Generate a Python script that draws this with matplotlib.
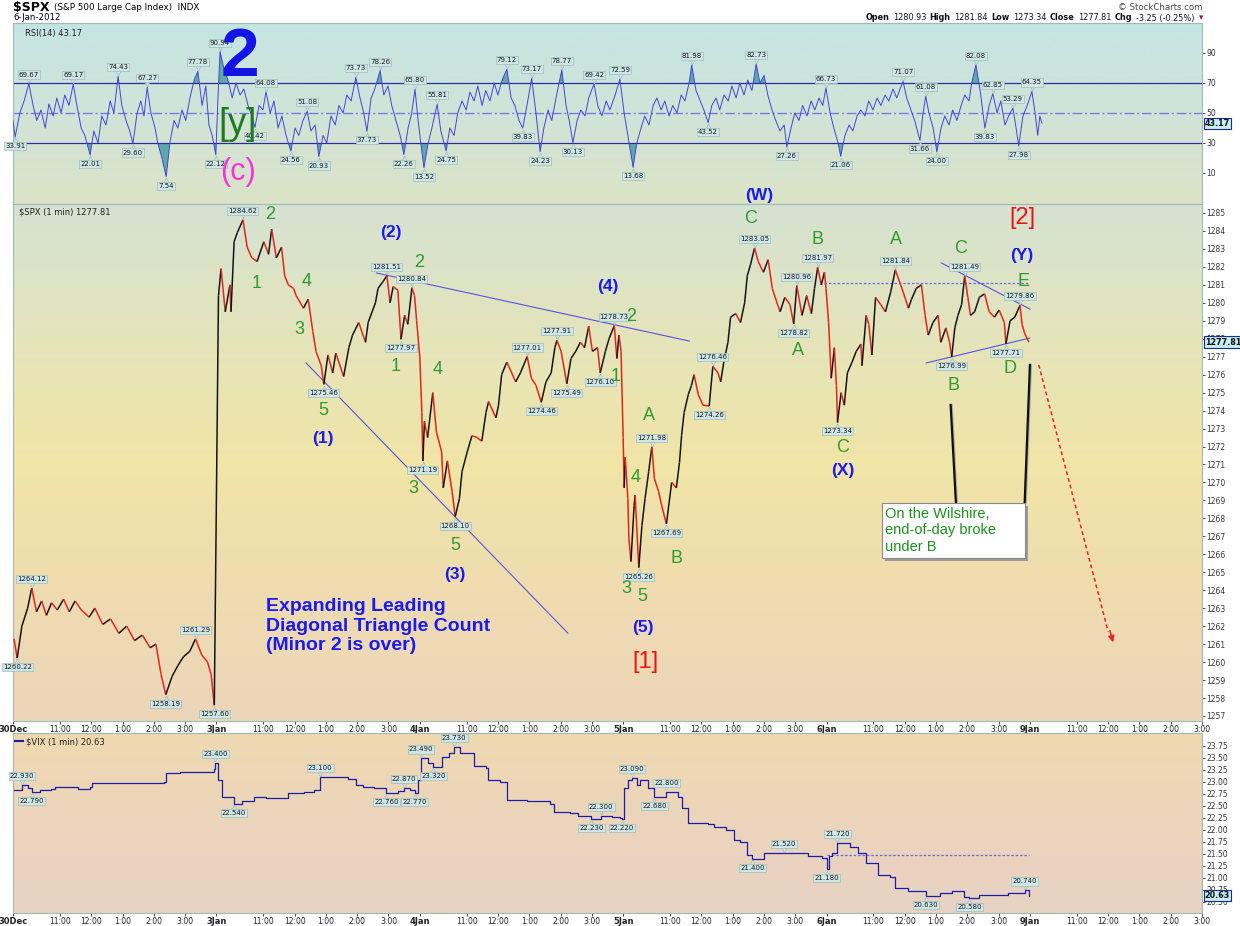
import numpy as np
import matplotlib.pyplot as plt
from matplotlib.collections import LineCollection
from matplotlib.colors import LinearSegmentedColormap
from matplotlib.patches import Rectangle
from matplotlib.transforms import offset_copy

plt.rcParams['font.family'] = ['DejaVu Sans']

# x = trading minutes since 30-Dec 9:30 (390 per session)
session = 390
days = ['30Dec', '3Jan', '4Jan', '5Jan', '6Jan', '9Jan']
hours = ['11:00', '12:00', '1:00', '2:00', '3:00']
hour_min = [90, 150, 210, 270, 330]

# $SPX 1 min (time, price)
spx_points = [
    (2, 1261.3), (8, 1260.22), (17, 1262.0), (28, 1263.0), (36, 1264.12), (45, 1262.8), (55, 1263.4),
    (64, 1262.6), (74, 1263.3), (85, 1262.9), (97, 1263.5), (108, 1262.8), (119, 1263.4), (131, 1262.9),
    (146, 1262.5), (157, 1263.0), (172, 1262.1), (187, 1262.4), (203, 1261.6), (218, 1262.0), (233, 1261.2),
    (248, 1261.5), (263, 1260.8), (274, 1261.0), (284, 1259.3), (293, 1258.19), (305, 1259.2), (316, 1259.8),
    (327, 1260.3), (339, 1260.6), (350, 1261.29), (362, 1260.4), (373, 1260.0), (380, 1259.3), (386, 1257.60),
    # 3 Jan
    (394, 1280.4), (399, 1281.9), (407, 1279.5), (416, 1281.0), (418, 1279.5), (424, 1283.4), (430, 1283.9),
    (441, 1284.62), (449, 1283.1), (458, 1282.5), (468, 1282.3), (481, 1283.4), (490, 1282.7), (496, 1284.1),
    (505, 1282.5), (515, 1283.1), (521, 1281.5), (528, 1281.0), (538, 1280.8), (543, 1280.4), (557, 1279.7),
    (566, 1280.2), (575, 1278.4), (581, 1277.3), (591, 1276.5), (596, 1275.46), (604, 1277.1), (613, 1276.1),
    (619, 1277.2), (634, 1275.9), (644, 1277.5), (651, 1278.2), (663, 1278.9), (676, 1277.8), (681, 1278.9),
    (695, 1280.0), (700, 1280.8), (710, 1281.2), (717, 1281.51), (723, 1280.0), (729, 1280.9), (738, 1280.7),
    (744, 1277.97), (751, 1279.3), (757, 1278.8), (765, 1280.84), (770, 1280.4), (774, 1279.0),
    # 4 Jan
    (780, 1277.0), (784, 1273.9), (786, 1271.19), (789, 1273.4), (795, 1272.5), (805, 1275.0), (812, 1272.8),
    (822, 1271.7), (825, 1269.7), (833, 1271.2), (842, 1269.5), (848, 1268.10), (856, 1269.1), (861, 1270.6),
    (871, 1271.7), (880, 1272.6), (890, 1272.5), (899, 1272.3), (907, 1273.9), (912, 1274.5), (926, 1273.6),
    (931, 1274.3), (937, 1276.0), (947, 1276.7), (964, 1275.6), (973, 1276.1), (986, 1277.01), (994, 1275.8),
    (1003, 1275.4), (1013, 1274.46), (1022, 1275.6), (1032, 1276.1), (1039, 1277.5), (1043, 1277.91),
    (1051, 1277.3), (1062, 1275.49), (1070, 1276.9), (1079, 1277.3), (1088, 1277.8), (1096, 1277.5),
    (1104, 1278.7), (1111, 1277.3), (1121, 1277.5), (1126, 1276.10), (1136, 1277.3), (1143, 1278.0),
    (1153, 1278.73), (1158, 1276.9), (1162, 1278.2), (1166, 1277.3),
    # 5 Jan
    (1170, 1272.5), (1172, 1269.7), (1174, 1271.4), (1179, 1269.1), (1181, 1266.9), (1185, 1265.6),
    (1191, 1268.7), (1193, 1269.3), (1200, 1265.26), (1206, 1267.6), (1212, 1269.1), (1219, 1270.6),
    (1225, 1271.98), (1230, 1270.2), (1238, 1269.5), (1244, 1268.7), (1253, 1267.69), (1263, 1270.0),
    (1272, 1269.7), (1278, 1271.1), (1282, 1272.6), (1287, 1273.9), (1295, 1274.9), (1301, 1275.4),
    (1306, 1276.0), (1314, 1274.9), (1323, 1274.3), (1335, 1274.26), (1342, 1276.46), (1352, 1276.1),
    (1357, 1275.6), (1363, 1276.7), (1371, 1277.8), (1376, 1279.2), (1386, 1279.4), (1395, 1278.9),
    (1403, 1280.0), (1408, 1281.5), (1414, 1282.1), (1422, 1283.05), (1429, 1282.3), (1439, 1281.7),
    (1448, 1282.4), (1456, 1280.8), (1465, 1280.0), (1471, 1279.5), (1480, 1280.3), (1490, 1279.9),
    (1497, 1278.82), (1503, 1280.96), (1513, 1279.3), (1522, 1280.4), (1531, 1279.4), (1537, 1280.8),
    (1543, 1281.97), (1550, 1281.0), (1556, 1281.7), (1559, 1280.8),
    # 6 Jan
    (1564, 1278.9), (1569, 1275.8), (1575, 1277.5), (1579, 1275.4), (1581, 1273.34), (1588, 1275.0),
    (1594, 1274.3), (1600, 1276.1), (1609, 1276.7), (1617, 1277.3), (1626, 1277.7), (1628, 1276.5),
    (1636, 1279.3), (1641, 1278.8), (1647, 1277.1), (1654, 1280.3), (1664, 1279.9), (1673, 1279.5),
    (1683, 1280.6), (1692, 1281.84), (1702, 1281.0), (1707, 1280.6), (1717, 1279.7), (1723, 1280.2),
    (1732, 1280.8), (1742, 1281.0), (1749, 1279.3), (1755, 1278.2), (1764, 1278.9), (1774, 1279.3),
    (1779, 1277.8), (1789, 1278.6), (1796, 1277.8), (1800, 1276.99), (1806, 1278.6), (1812, 1279.3),
    (1819, 1279.9), (1825, 1281.49), (1831, 1280.3), (1836, 1279.3), (1844, 1279.5), (1853, 1280.3),
    (1863, 1280.5), (1872, 1279.5), (1882, 1279.2), (1891, 1279.6), (1901, 1278.9), (1904, 1277.71),
    (1912, 1279.0), (1921, 1279.2), (1931, 1279.86), (1935, 1278.8), (1940, 1278.3), (1948, 1277.81),
]
spx_hi = [36, 350, 441, 717, 765, 986, 1043, 1153, 1225, 1342, 1422, 1503, 1543, 1692, 1825, 1931]
spx_lo = [8, 293, 386, 596, 744, 786, 848, 1013, 1062, 1126, 1200, 1253, 1335, 1497, 1581, 1800, 1904]

# RSI(14) (time, value)
rsi_points = [
    (0, 45), (4, 33.91), (13, 50), (21, 58), (30, 69.67), (38, 55), (45, 45), (53, 52), (61, 40), (68, 56),
    (76, 48), (83, 60), (91, 50), (98, 62), (106, 55), (114, 69.17), (121, 55), (129, 40), (136, 35),
    (146, 22.01), (153, 38), (161, 30), (168, 48), (176, 42), (184, 58), (191, 50), (199, 74.43), (206, 55),
    (214, 45), (221, 38), (227, 29.60), (235, 50), (242, 58), (248, 48), (254, 67.27), (261, 50), (269, 40),
    (274, 30), (282, 20), (290, 7.54), (297, 30), (305, 45), (312, 40), (320, 52), (327, 45), (335, 60),
    (343, 72), (350, 77.78), (358, 55), (365, 68), (371, 42), (377, 35), (384, 22.12), (388, 60),
    (392, 90.94), (399, 80), (407, 72), (415, 60), (422, 70), (430, 62), (437, 66), (445, 55), (452, 48),
    (458, 40.42), (466, 55), (473, 52), (479, 64.08), (487, 50), (494, 58), (502, 40), (509, 48), (517, 35),
    (526, 24.56), (534, 40), (541, 35), (549, 45), (557, 51.08), (564, 38), (572, 42), (579, 20.93),
    (587, 35), (594, 30), (602, 48), (610, 42), (617, 55), (625, 50), (632, 62), (640, 58), (649, 73.73),
    (657, 60), (664, 50), (670, 37.73), (678, 60), (685, 66), (695, 78.26), (702, 62), (710, 68), (717, 55),
    (725, 45), (733, 35), (740, 22.26), (748, 40), (755, 50), (761, 65.80), (767, 45), (772, 30),
    (778, 13.52), (786, 30), (793, 40), (803, 55.81), (810, 38), (820, 24.75), (827, 40), (835, 35),
    (842, 50), (850, 58), (858, 52), (865, 64), (873, 58), (880, 68), (888, 55), (895, 65), (903, 58),
    (911, 70), (918, 62), (926, 72), (935, 79.12), (943, 60), (950, 55), (958, 45), (965, 39.83), (973, 55),
    (982, 73.17), (990, 50), (998, 24.23), (1005, 40), (1013, 52), (1020, 45), (1028, 60), (1039, 78.77),
    (1047, 55), (1053, 45), (1060, 30.13), (1068, 45), (1075, 52), (1083, 48), (1090, 60), (1100, 69.42),
    (1107, 55), (1115, 48), (1123, 58), (1130, 52), (1140, 62), (1149, 72.59), (1157, 50), (1164, 35),
    (1174, 13.68), (1181, 30), (1189, 40), (1196, 48), (1204, 42), (1212, 55), (1219, 60), (1227, 52),
    (1234, 58), (1242, 48), (1249, 55), (1257, 50), (1265, 62), (1272, 58), (1280, 70), (1285, 81.98),
    (1293, 65), (1301, 58), (1308, 52), (1316, 43.52), (1323, 55), (1331, 60), (1338, 52), (1346, 62),
    (1354, 58), (1361, 68), (1369, 60), (1376, 70), (1384, 62), (1391, 72), (1399, 65), (1407, 82.73),
    (1414, 70), (1422, 75), (1429, 62), (1437, 52), (1444, 45), (1452, 38), (1460, 42), (1465, 27.26),
    (1473, 40), (1480, 50), (1488, 45), (1495, 55), (1503, 48), (1511, 58), (1518, 52), (1526, 60),
    (1533, 55), (1539, 66.73), (1547, 50), (1554, 40), (1562, 30), (1567, 21.06), (1575, 35), (1583, 42),
    (1590, 38), (1598, 48), (1605, 52), (1613, 48), (1620, 58), (1628, 52), (1636, 60), (1643, 55),
    (1651, 62), (1658, 58), (1666, 66), (1673, 60), (1685, 71.07), (1692, 60), (1700, 52), (1707, 45),
    (1717, 31.66), (1723, 50), (1728, 61.08), (1734, 50), (1742, 40), (1749, 24.00), (1757, 40), (1764, 48),
    (1772, 42), (1779, 52), (1787, 45), (1795, 55), (1802, 62), (1810, 58), (1815, 70), (1823, 82.08),
    (1831, 65), (1840, 39.83), (1848, 55), (1855, 62.85), (1863, 50), (1870, 58), (1878, 42), (1885, 48),
    (1893, 53.29), (1899, 40), (1904, 27.98), (1912, 48), (1920, 55), (1929, 64.35), (1935, 50), (1940, 35),
    (1944, 48), (1948, 43.17),
]
rsi_hi = [30, 114, 199, 254, 350, 392, 479, 557, 649, 695, 761, 803, 935, 982, 1039, 1100, 1149, 1285,
          1407, 1539, 1685, 1728, 1823, 1855, 1893, 1929]
rsi_lo = [4, 146, 227, 290, 384, 458, 526, 579, 670, 740, 778, 820, 965, 998, 1060, 1174, 1316, 1465,
          1567, 1717, 1749, 1840, 1904]

# $VIX 1 min (time, value)
vix_points = [
    (2, 22.83), (17, 22.93), (28, 22.87), (36, 22.79), (51, 22.83), (72, 22.85), (80, 22.90), (110, 22.90),
    (125, 22.86), (148, 22.89), (151, 22.97), (201, 22.97), (282, 22.97), (290, 23.00), (293, 23.18),
    (320, 23.20), (379, 23.21), (386, 23.28), (388, 23.40), (394, 23.04), (401, 22.69), (413, 22.69),
    (424, 22.54), (439, 22.61), (462, 22.69), (485, 22.67), (515, 22.67), (528, 22.77), (558, 22.80),
    (577, 22.83), (589, 23.10), (642, 23.06), (657, 22.94), (672, 22.90), (693, 22.87), (716, 22.76),
    (738, 22.82), (750, 22.87), (761, 22.83), (770, 22.77), (776, 23.04), (782, 23.49), (795, 23.40),
    (806, 23.32), (822, 23.53), (837, 23.60), (846, 23.73), (858, 23.61), (884, 23.33), (907, 23.29),
    (911, 23.04), (933, 23.00), (948, 22.63), (986, 22.61), (1030, 22.54), (1037, 22.38), (1068, 22.35),
    (1083, 22.29), (1109, 22.23), (1128, 22.30), (1149, 22.27), (1164, 22.25), (1168, 22.22),
    (1172, 22.88), (1179, 23.04), (1187, 23.09), (1196, 22.94), (1202, 23.04), (1217, 22.87),
    (1230, 22.68), (1253, 22.80), (1276, 22.69), (1283, 22.46), (1295, 22.15), (1333, 22.13),
    (1344, 22.06), (1367, 22.00), (1382, 21.79), (1395, 21.75), (1407, 21.48), (1418, 21.40),
    (1441, 21.52), (1478, 21.52), (1524, 21.46), (1552, 21.41), (1560, 21.18), (1564, 21.46),
    (1571, 21.52), (1581, 21.72), (1605, 21.65), (1620, 21.52), (1636, 21.31), (1658, 21.06),
    (1681, 21.02), (1692, 20.79), (1717, 20.73), (1751, 20.63), (1778, 20.69), (1800, 20.73),
    (1823, 20.61), (1834, 20.58), (1853, 20.65), (1897, 20.65), (1908, 20.68), (1935, 20.68),
    (1940, 20.74), (1948, 20.63),
]
vix_hi = [17, 388, 589, 750, 782, 846, 1128, 1187, 1253, 1478, 1581, 1940]
vix_lo = [36, 424, 716, 770, 806, 1109, 1168, 1230, 1418, 1560, 1751, 1834]

W, H = 1240, 926
fig = plt.figure(figsize=(W / 100, H / 100), dpi=100)
L, R = 13, 1202


def panel(top, bottom):
    return fig.add_axes([L / W, 1 - bottom / H, (R - L) / W, (bottom - top) / H])


ax_r = panel(23, 204)
ax_p = panel(204, 721)
ax_v = panel(733, 913)


def shade(ax, colors):
    cmap = LinearSegmentedColormap.from_list('bg', colors)
    ax.imshow(np.linspace(0, 1, 256).reshape(-1, 1), cmap=cmap, aspect='auto',
              extent=(0, 1, 0, 1), origin='upper', transform=ax.transAxes, zorder=0)


shade(ax_r, ['#c5e4e2', '#d0e4d8', '#dbe3c6'])
shade(ax_p, ['#d5e2d2', '#e4e4bc', '#f1e5a7', '#efdcb0', '#ebd6b9'])
shade(ax_v, ['#efd9b0', '#ebd5bc', '#e8d2c3'])

TAG_FC, TAG_EC = '#cfe6e6', '#9fbcbc'


def tag(ax, x, y, txt, up):
    s = 1 if up else -1
    tr = offset_copy(ax.transData, fig=fig, x=0, y=2.4 * s, units='points')
    ax.plot([x], [y], marker='v' if up else '^', ms=3.5, mfc=TAG_FC, mec=TAG_EC, mew=0.5,
            transform=tr, zorder=6)
    ax.annotate(txt, (x, y), xytext=(0, 4.3 * s), textcoords='offset points', ha='center',
                va='bottom' if up else 'top', fontsize=5, color='#1a1a1a', zorder=7,
                bbox=dict(boxstyle='square,pad=0.15', fc=TAG_FC, ec=TAG_EC, lw=0.5))


def last_tag(ax, v, txt):
    ax.annotate(txt, xy=(1, v), xycoords=('axes fraction', 'data'), xytext=(2, 0),
                textcoords='offset points', ha='left', va='center', fontsize=5.8,
                fontweight='bold', color='#111', annotation_clip=False, zorder=10,
                bbox=dict(boxstyle='square,pad=0.15', fc='#c4eef2', ec='#1c2c80', lw=0.8))


# ---- RSI panel ----
rt, rv = np.array(rsi_points).T
ax_r.fill_between(rt, rv, 70, where=rv >= 70, interpolate=True, color='#5fa8a8', lw=0, zorder=2)
ax_r.fill_between(rt, rv, 30, where=rv <= 30, interpolate=True, color='#5fa8a8', lw=0, zorder=2)
ax_r.axhline(70, color='#2c2ca0', lw=0.9, zorder=2)
ax_r.axhline(30, color='#2c2ca0', lw=0.9, zorder=2)
ax_r.axhline(50, color='#7a7ae6', lw=1.0, ls=(0, (7, 2, 1.5, 2)), zorder=2)
ax_r.plot(rt, rv, color='#4444d8', lw=0.7, zorder=3)
rsi_d = dict(rsi_points)
for t in rsi_hi:
    tag(ax_r, t, rsi_d[t], '%.2f' % rsi_d[t], True)
for t in rsi_lo:
    tag(ax_r, t, rsi_d[t], '%.2f' % rsi_d[t], False)
ax_r.set_ylim(-10.7, 110)
ax_r.set_yticks([10, 30, 50, 70, 90])
last_tag(ax_r, rv[-1], '%.2f' % rv[-1])
ax_r.text(0.01, 0.965, 'RSI(14) %.2f' % rv[-1], transform=ax_r.transAxes, fontsize=6,
          va='top', color='#222', zorder=8)

# ---- SPX panel ----
pt, pv = np.array(spx_points).T
seg = np.stack([np.column_stack([pt[:-1], pv[:-1]]), np.column_stack([pt[1:], pv[1:]])], axis=1)
cols = np.where(pv[1:] >= pv[:-1], '#151515', '#e3261b')
ax_p.add_collection(LineCollection(seg, colors=cols, linewidths=1.1, zorder=3))
spx_d = dict(spx_points)
for t in spx_hi:
    tag(ax_p, t, spx_d[t], '%.2f' % spx_d[t], True)
for t in spx_lo:
    tag(ax_p, t, spx_d[t], '%.2f' % spx_d[t], False)
ax_p.set_ylim(1256.72, 1285.5)
ax_p.set_yticks(np.arange(1257, 1286))
last_tag(ax_p, pv[-1], '%.2f' % pv[-1])
ax_p.text(0.005, 0.993, '$SPX (1 min) %.2f' % pv[-1], transform=ax_p.transAxes, fontsize=6,
          va='top', color='#222', zorder=8)

# trend lines
tl = '#5555dd'
ax_p.plot([562, 1064], [1276.65, 1261.61], color=tl, lw=0.8, zorder=2)
ax_p.plot([697, 1297], [1281.66, 1277.87], color=tl, lw=0.8, zorder=2)
ax_p.plot([1780, 1950], [1282.22, 1279.65], color=tl, lw=0.8, zorder=2)
ax_p.plot([1751, 1950], [1276.65, 1278.04], color=tl, lw=0.8, zorder=2)
ax_p.plot([1556, 1948], [1281.10, 1281.10], color='#6a6ae8', lw=0.9, ls=(0, (2, 1.5)), zorder=2)
ax_p.plot([1967, 2100], [1276.54, 1261.7], color='#ee2222', lw=1.1, ls=(0, (2.5, 2)), zorder=4)
ax_p.annotate('', xy=(2111, 1260.95), xytext=(2102, 1261.9),
              arrowprops=dict(arrowstyle='-|>', color='#ee2222', lw=1.1, mutation_scale=9), zorder=4)

# wave labels
GREEN, BLUE, RED = '#2f9a2f', '#1a1aee', '#ee1111'
waves = [
    (494, 1284.94, '2', GREEN), (468, 1281.10, '1', GREEN), (564, 1281.21, '4', GREEN),
    (549, 1278.49, '3', GREEN), (596, 1273.98, '5', GREEN), (778, 1282.22, '2', GREEN),
    (734, 1276.48, '1', GREEN), (814, 1276.26, '4', GREEN), (767, 1269.69, '3', GREEN),
    (848, 1266.51, '5', GREEN), (1185, 1279.21, '2', GREEN), (1155, 1275.87, '1', GREEN),
    (1193, 1270.25, '4', GREEN), (1177, 1264.12, '3', GREEN), (1206, 1263.67, '5', GREEN),
    (1219, 1273.75, 'A', GREEN), (1272, 1265.79, 'B', GREEN), (1414, 1284.72, 'C', GREEN),
    (1505, 1277.32, 'A', GREEN), (1543, 1283.50, 'B', GREEN), (1590, 1271.92, 'C', GREEN),
    (1694, 1283.50, 'A', GREEN), (1817, 1283.05, 'C', GREEN), (1804, 1275.42, 'B', GREEN),
    (1912, 1276.37, 'D', GREEN), (1938, 1281.16, 'E', GREEN),
]
for x, y, s, c in waves:
    ax_p.text(x, y, s, color=c, fontsize=13, ha='center', va='center',
              family=['Liberation Sans', 'DejaVu Sans'], zorder=8)
degree = [
    (594, 1272.47, '(1)'), (725, 1283.94, '(2)'), (848, 1264.90, '(3)'), (1141, 1280.88, '(4)'),
    (1208, 1261.95, '(5)'), (1592, 1270.69, '(X)'), (1935, 1282.66, '(Y)'),
]
for x, y, s in degree:
    ax_p.text(x, y, s, color=BLUE, fontsize=12.5, fontweight='bold', ha='center', va='center',
              family=['Liberation Sans', 'DejaVu Sans'], zorder=8)
for x, y, s in [(1213, 1260.0, '[1]'), (1935, 1284.72, '[2]')]:
    ax_p.text(x, y, s, color=RED, fontsize=17, ha='center', va='center',
              family=['Liberation Sans', 'DejaVu Sans'], zorder=8)

ax_p.text(486, 1263.56, 'Expanding Leading\nDiagonal Triangle Count\n(Minor 2 is over)',
          color=BLUE, fontsize=14, fontweight='bold', ha='left', va='top',
          family=['Liberation Sans', 'DejaVu Sans'], zorder=8)

# Wilshire callout
ax_p.plot([1800, 1810], [1274.31, 1268.91], color='#aaaaaa', lw=1.6, zorder=5)
ax_p.plot([1798, 1808], [1274.31, 1268.91], color='#111111', lw=1.6, zorder=5)
ax_p.plot([1952, 1942], [1276.54, 1268.91], color='#aaaaaa', lw=1.6, zorder=5)
ax_p.plot([1950, 1940], [1276.54, 1268.91], color='#111111', lw=1.6, zorder=5)
ax_p.add_patch(Rectangle((1672, 1265.62), 274, 3.06, fc='#9a9a9a', ec='none', zorder=5))
ax_p.add_patch(Rectangle((1666, 1265.79), 274, 3.06, fc='white', ec='#8a8a8a', lw=0.8, zorder=6))
ax_p.text(1672, 1268.62, 'On the Wilshire,\nend-of-day broke\nunder B', color='#1e8f1e',
          fontsize=10.5, ha='left', va='top', family=['Liberation Sans', 'DejaVu Sans'], zorder=7)

# overlays in RSI panel
ax_r.text(430, 86.7, '2', color='#1414e6', fontsize=50, fontweight='bold', ha='center', va='center',
          family=['Liberation Sans', 'DejaVu Sans'], zorder=9)
ax_r.text(426, 42, '[y]', color='#1e7b1e', fontsize=26, ha='center', va='center',
          family=['Liberation Sans', 'DejaVu Sans'], zorder=9)
ax_r.text(426, 10.7, '(c)', color='#ff30e0', fontsize=22, ha='center', va='center',
          family=['Liberation Sans', 'DejaVu Sans'], zorder=9)
ax_r.text(1412, -4.7, '(W)', color=BLUE, fontsize=12.5, fontweight='bold', ha='center', va='center',
          family=['Liberation Sans', 'DejaVu Sans'], zorder=9)

# ---- VIX panel ----
vt, vv = np.array(vix_points).T
ax_v.plot(vt, vv, drawstyle='steps-post', color='#1c1ca8', lw=0.9, zorder=3)
ax_v.plot([1560, 1948], [21.48, 21.48], color='#6a6ae8', lw=0.9, ls=(0, (2, 1.5)), zorder=2)
vix_d = dict(vix_points)
for t in vix_hi:
    tag(ax_v, t, vix_d[t], '%.3f' % vix_d[t], True)
for t in vix_lo:
    tag(ax_v, t, vix_d[t], '%.3f' % vix_d[t], False)
ax_v.set_ylim(20.27, 24.02)
ax_v.set_yticks(np.arange(20.5, 23.76, 0.25))
ax_v.set_yticklabels(['%.2f' % v for v in np.arange(20.5, 23.76, 0.25)])
last_tag(ax_v, vv[-1], '%.2f' % vv[-1])
ax_v.text(0.011, 0.975, '$VIX (1 min) %.2f' % vv[-1], transform=ax_v.transAxes, fontsize=6,
          va='top', color='#222', zorder=8)
ax_v.plot([0.002, 0.008], [0.955, 0.955], transform=ax_v.transAxes, color='#1c1ca8', lw=1.5)

# ---- axes cosmetics ----
pos, lab = [], []
for d, name in enumerate(days):
    pos.append(d * session)
    lab.append(name)
    for m, h in zip(hour_min, hours):
        pos.append(d * session + m)
        lab.append(h)

for ax in (ax_r, ax_p, ax_v):
    ax.set_xlim(0, 2251)
    ax.yaxis.tick_right()
    ax.tick_params(axis='y', labelsize=5.5, length=2, pad=1, colors='#333', width=0.6)
    for s in ax.spines.values():
        s.set_color('#a0b8b8')
        s.set_linewidth(0.8)

ax_r.set_xticks([])
for ax in (ax_p, ax_v):
    ax.set_xticks(pos)
    ax.set_xticklabels(lab)
    ax.tick_params(axis='x', labelsize=5.5, length=2, pad=1, colors='#222', width=0.6)
    for lbl in ax.get_xticklabels():
        if lbl.get_text() in days:
            lbl.set_fontweight('bold')
            lbl.set_fontsize(6)

# ---- header ----
fig.canvas.draw()
rend = fig.canvas.get_renderer()


def width_px(t):
    return t.get_window_extent(renderer=rend).width


t0 = fig.text(13 / W, 1 - 8 / H, '$SPX', fontsize=9, fontweight='bold', va='center', ha='left')
fig.text((13 + width_px(t0) + 4) / W, 1 - 8 / H, '(S&P 500 Large Cap Index)  INDX', fontsize=6.3,
         va='center', ha='left')
fig.text(13 / W, 1 - 18 / H, '6-Jan-2012', fontsize=6.2, va='center', ha='left')
fig.text(1203 / W, 1 - 7 / H, '\u00a9 StockCharts.com', fontsize=6.2, va='center', ha='right',
         color='#444')
head = [('Open', True), ('1280.93', False), ('High', True), ('1281.84', False), ('Low', True),
        ('1273.34', False), ('Close', True), ('1277.81', False), ('Chg', True), ('-3.25 (-0.25%)', False)]
fig.text(1203 / W, 1 - 18 / H, '\u25be', fontsize=6.2, va='center', ha='right', color='#b01030')
x = 1195
for s, b in reversed(head):
    t = fig.text(x / W, 1 - 18 / H, s, fontsize=5.9, fontweight='bold' if b else 'normal',
                 va='center', ha='right', color='#111')
    x -= width_px(t) + (3 if b else 4)

fig.savefig('out.png', dpi=100)
